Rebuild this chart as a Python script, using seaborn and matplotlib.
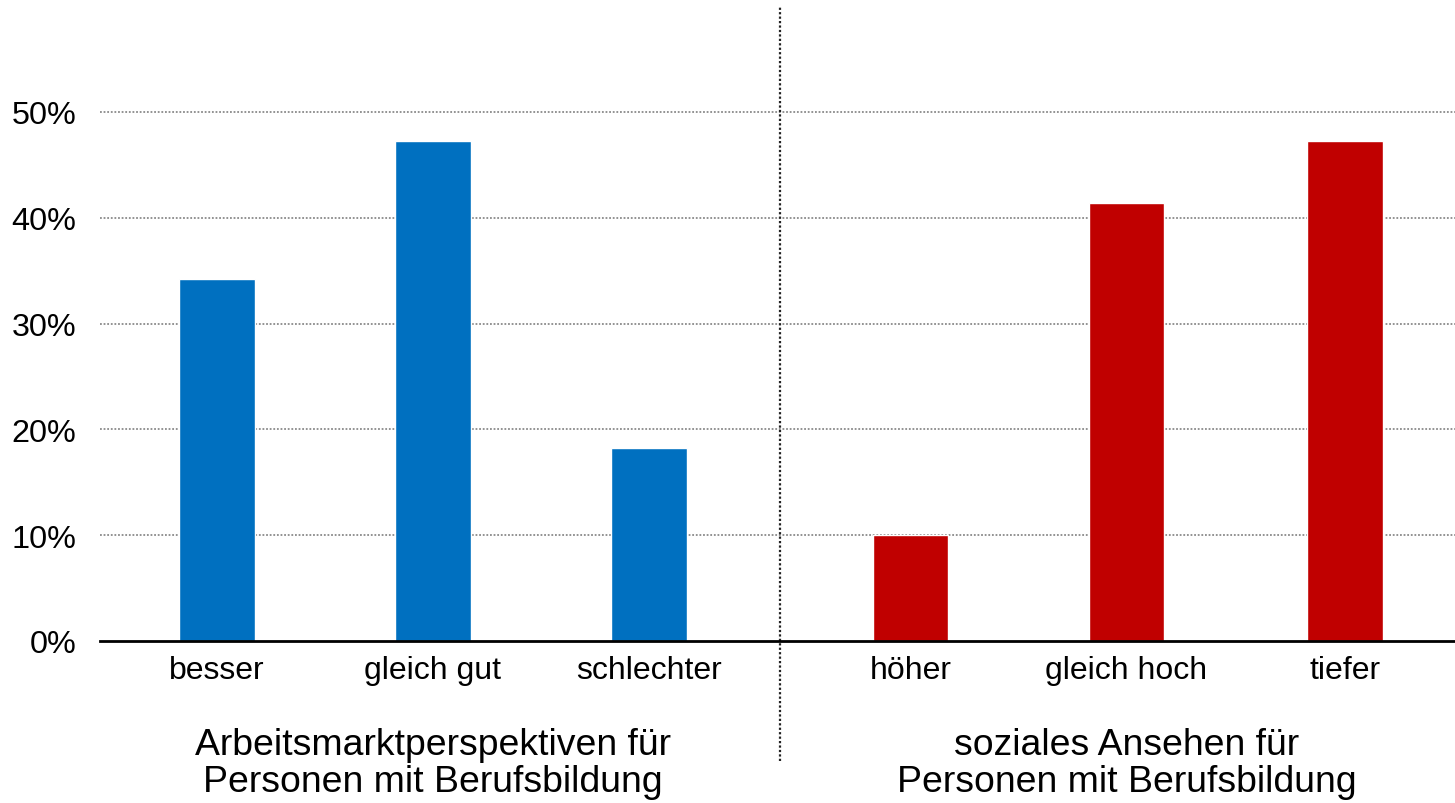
import pandas as pd
import numpy as np
import matplotlib.pyplot as plt
import matplotlib.transforms as mtransforms
import seaborn as sns

kategorien = ['besser', 'gleich gut', 'schlechter', 'höher', 'gleich hoch', 'tiefer']
positionen = [0, 1, 2, 3.21, 4.21, 5.22]
werte = [0.342, 0.472, 0.182, 0.100, 0.414, 0.472]
gruppen = ['arbeit', 'arbeit', 'arbeit', 'ansehen', 'ansehen', 'ansehen']
gruppen_labels = ['Arbeitsmarktperspektiven für\nPersonen mit Berufsbildung',
                  'soziales Ansehen für\nPersonen mit Berufsbildung']
farben = {'arbeit': '#0070C0', 'ansehen': '#C00000'}

df = pd.DataFrame({'pos': positionen, 'wert': werte, 'gruppe': gruppen})

sns.set_style('white')
plt.rcParams['font.family'] = ['Liberation Sans', 'DejaVu Sans']
plt.rcParams['text.color'] = 'black'
plt.rcParams['xtick.color'] = 'black'
plt.rcParams['ytick.color'] = 'black'

fig = plt.figure(figsize=(14.55, 8.04), dpi=100)
ax = fig.add_axes([100/1455, (804-642)/804, 1 - 100/1455, (642-7)/804])

sns.barplot(data=df, x='pos', y='wert', hue='gruppe', palette=farben, native_scale=True,
            width=0.35, dodge=False, legend=False, saturation=1, ax=ax)

ax.set_xlim(-0.54, 5.73)
ax.set_ylim(0, 0.6)
ax.set_yticks([0, 0.1, 0.2, 0.3, 0.4, 0.5])
ax.set_yticklabels(['0%', '10%', '20%', '30%', '40%', '50%'], fontsize=23.3)
ax.set_xticks(positionen)
ax.set_xticklabels(kategorien, fontsize=23)
ax.tick_params(axis='both', length=0)
ax.tick_params(axis='y', pad=17)
ax.tick_params(axis='x', pad=10)
ax.set_xlabel('')
ax.set_ylabel('')

for s in ['top', 'right', 'left']:
    ax.spines[s].set_visible(False)
ax.spines['bottom'].set_color('black')
ax.spines['bottom'].set_linewidth(2)

for y in [0.1, 0.2, 0.3, 0.4, 0.5]:
    ax.axhline(y, color='#8a8a8a', linestyle=(0, (1, 1)), linewidth=1.3, zorder=0)

# Trennlinie zwischen den Gruppen
trenn = (positionen[2] + positionen[3]) / 2
ax.axvline(trenn, ymin=-0.189, ymax=1.0, color='#222222', linestyle=(0, (1, 1)),
           linewidth=1.6, clip_on=False)

trans = mtransforms.blended_transform_factory(ax.transData, ax.transAxes)
ax.text(positionen[1], -0.192, gruppen_labels[0], transform=trans, ha='center', va='center',
        fontsize=26.9, linespacing=1.08)
ax.text(positionen[4], -0.192, gruppen_labels[1], transform=trans, ha='center', va='center',
        fontsize=26.9, linespacing=1.08)

fig.savefig('out.png', dpi=100)
